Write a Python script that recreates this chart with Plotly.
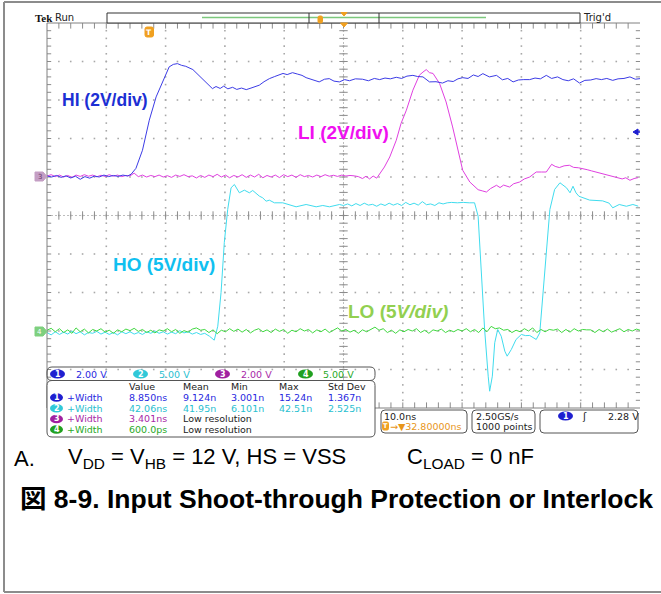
import plotly.graph_objects as go

# ---------------- data read from the scope capture ----------------
TIME_PER_DIV_NS = 10.0
TIME_LEFT_NS = -17.2          # left graticule edge, relative to trigger (ns)
SCALE_V_12 = 2.0              # ch1 / ch3  (HI, LI)   V/div
SCALE_V_34 = 5.0              # ch2 / ch4  (HO, LO)   V/div
OFFSET_DIV_12 = 1             # ground position (div) of ch1/ch3
OFFSET_DIV_34 = -3            # ground position (div) of ch2/ch4

# (time ns, volts)
HI = [(-17.2, 0.05), (-16.4, 0.0), (-15.6, 0.08), (-14.8, -0.02), (-14.0, 0.06), (-13.2, -0.05),
      (-12.4, 0.04), (-11.6, -0.12), (-10.8, 0.02), (-10.0, -0.06), (-9.2, 0.05), (-8.4, 0.0),
      (-7.6, 0.1), (-6.8, 0.02), (-6.0, 0.08), (-5.2, 0.03), (-4.4, 0.1), (-3.6, 0.05), (-3.0, 0.15),
      (-2.2, 0.45), (-1.1, 1.39), (0.05, 2.95), (1.2, 4.16), (2.3, 4.94), (3.4, 5.72), (4.1, 5.85),
      (4.8, 5.89), (5.5, 5.8), (6.2, 5.75), (7.4, 5.58), (8.2, 5.35), (9.0, 5.11), (9.9, 4.85),
      (10.7, 4.59), (11.3, 4.7), (12.0, 4.6), (12.6, 4.72), (13.3, 4.58), (14.1, 4.66), (14.8, 4.55),
      (15.6, 4.62), (16.4, 4.54), (17.2, 4.62), (18.0, 4.7), (18.6, 4.77), (19.4, 4.95), (20.3, 5.11),
      (21.2, 5.22), (22.0, 5.3), (22.6, 5.38), (23.3, 5.32), (24.2, 5.42), (25.0, 5.35), (25.8, 5.28),
      (26.5, 5.16), (27.5, 5.05), (28.7, 4.94), (29.6, 5.08), (30.4, 5.11), (31.2, 4.98), (32.1, 4.94),
      (33.0, 5.06), (33.8, 5.0), (34.8, 5.1), (36.0, 5.08), (37.0, 5.0), (38.0, 5.12), (38.9, 5.06),
      (39.8, 5.14), (40.7, 5.1), (41.7, 5.18), (42.6, 5.12), (43.5, 5.24), (44.5, 5.28), (45.3, 5.22),
      (46.2, 5.2), (47.3, 4.94), (48.4, 4.95), (49.5, 4.88), (50.4, 5.0), (51.3, 4.96), (52.1, 5.1),
      (52.9, 5.16), (53.8, 5.12), (54.7, 5.3), (55.5, 5.22), (56.3, 5.37), (57.4, 5.2), (58.6, 5.28),
      (59.6, 5.05), (60.5, 5.12), (61.4, 4.94), (62.3, 5.04), (63.2, 5.06), (64.2, 5.06), (65.1, 5.14),
      (66.0, 5.1), (67.0, 5.28), (67.9, 5.12), (68.9, 5.2), (69.8, 5.06), (70.7, 5.0), (71.6, 5.1),
      (72.6, 4.88), (73.5, 5.02), (74.5, 5.04), (75.4, 5.11), (76.3, 5.06), (77.2, 5.12), (78.2, 5.02),
      (79.1, 5.1), (80.1, 5.12), (81.1, 5.2), (82.0, 5.08), (82.8, 5.11)]

LI = [(-17.2, 0.05), (-16.5, 0.12), (-15.8, 0.02), (-15.1, 0.1), (-14.4, 0.0), (-13.7, 0.08),
      (-13.0, -0.02), (-12.3, 0.1), (-11.6, 0.03), (-10.9, 0.12), (-10.2, 0.04), (-9.5, 0.1),
      (-8.8, 0.01), (-8.1, 0.09), (-7.4, 0.03), (-6.7, 0.12), (-6.0, 0.04), (-5.3, 0.1), (-4.6, 0.02),
      (-3.9, 0.08), (-3.2, 0.06), (-2.5, 0.2), (-1.8, 0.02), (-1.1, 0.1), (-0.4, 0.0), (0.3, 0.08),
      (1.0, 0.02), (1.7, 0.1), (2.4, 0.0), (3.1, 0.07), (3.8, -0.02), (4.5, 0.1), (5.2, 0.03),
      (5.9, 0.12), (6.6, 0.02), (7.3, 0.06), (8.0, -0.05), (8.7, 0.08), (9.4, -0.02), (10.1, 0.1),
      (10.8, 0.02), (11.5, 0.14), (12.2, 0.0), (12.9, 0.1), (13.6, -0.04), (14.3, 0.08), (15.0, 0.0),
      (15.7, 0.12), (16.4, -0.02), (17.1, 0.1), (17.8, 0.0), (18.5, 0.14), (19.2, -0.04), (19.9, 0.08),
      (20.6, 0.0), (21.3, 0.1), (22.0, -0.03), (22.7, 0.12), (23.4, 0.02), (24.1, 0.1), (24.8, -0.02),
      (25.5, 0.12), (26.2, 0.02), (26.9, 0.08), (27.6, 0.0), (28.3, 0.1), (29.0, 0.02), (29.7, 0.12),
      (30.4, 0.04), (31.1, 0.09), (31.8, 0.03), (32.5, 0.1), (33.2, 0.05), (33.9, 0.08), (34.6, 0.06),
      (35.3, 0.02), (36.0, -0.08), (36.6, 0.04), (37.2, -0.1), (37.8, 0.05), (38.4, -0.06), (38.9, 0.18),
      (39.7, 0.52), (40.6, 1.04), (41.7, 1.91), (42.5, 2.78), (43.4, 3.47), (44.5, 4.51), (45.6, 5.29),
      (46.2, 5.45), (46.75, 5.58), (47.3, 5.42), (47.9, 5.38), (49.0, 4.86), (50.1, 3.9), (51.2, 2.6),
      (52.1, 1.39), (52.9, 0.35), (54.1, -0.26), (55.5, -0.66), (56.2, -0.72), (56.9, -0.78),
      (57.6, -0.6), (58.6, -0.43), (59.2, -0.55), (59.8, -0.42), (60.8, -0.52), (61.5, -0.35),
      (62.5, -0.26), (63.3, -0.1), (64.2, 0.0), (65.3, 0.26), (66.2, 0.26), (67.0, 0.26), (67.9, 0.66),
      (68.5, 0.55), (69.2, 0.49), (70.0, 0.58), (70.9, 0.61), (71.6, 0.5), (72.4, 0.48), (73.2, 0.44),
      (73.9, 0.38), (74.6, 0.32), (75.4, 0.26), (76.2, 0.2), (77.0, 0.14), (77.6, 0.1), (78.2, 0.04),
      (79.0, -0.02), (79.8, -0.1), (80.4, -0.04), (81.1, -0.17), (81.8, -0.08), (82.5, -0.03)]

HO = [(-17.2, -0.2), (-16.5, -0.5), (-15.8, -0.1), (-15.1, -0.45), (-14.4, -0.15), (-13.7, -0.4),
      (-13.0, 0.0), (-12.3, -0.35), (-11.6, -0.1), (-10.9, -0.5), (-10.2, -0.2), (-9.5, -0.3),
      (-8.8, -0.05), (-8.1, -0.4), (-7.4, -0.15), (-6.7, -0.45), (-6.0, -0.2), (-5.3, -0.5),
      (-4.6, -0.1), (-3.9, -0.35), (-3.2, -0.1), (-2.5, -0.4), (-1.8, -0.2), (-1.1, -0.45),
      (-0.4, -0.1), (0.3, -0.3), (1.0, 0.0), (1.7, -0.3), (2.4, -0.1), (3.1, -0.4), (3.8, -0.15),
      (4.5, -0.35), (5.2, 0.05), (5.9, -0.25), (6.6, -0.1), (7.3, -0.4), (8.0, -0.2), (8.7, -0.45),
      (9.4, -0.3), (10.2, -0.68), (11.0, -1.19), (11.6, 0.62), (12.15, 5.0), (12.7, 11.49),
      (13.27, 15.78), (13.84, 18.6), (14.4, 19.03), (15.24, 17.95), (16.08, 18.29), (16.93, 17.95),
      (17.49, 18.25), (18.62, 17.51), (19.17, 17.3), (19.75, 16.86), (20.3, 16.99), (21.15, 16.65),
      (22.55, 16.65), (23.68, 16.43), (24.81, 16.13), (26.5, 16.43), (28.19, 16.13), (29.3, 16.3),
      (30.43, 16.13), (32.12, 16.43), (32.8, 16.3), (33.5, 16.5), (34.2, 16.25), (34.9, 16.55),
      (35.6, 16.3), (36.3, 16.6), (37.0, 16.35), (37.7, 16.45), (38.4, 16.2), (39.1, 16.5),
      (39.8, 16.3), (40.5, 16.6), (41.2, 16.35), (41.9, 16.55), (42.6, 16.3), (43.3, 16.7),
      (44.0, 16.4), (44.7, 16.6), (45.4, 16.35), (46.1, 16.8), (46.8, 16.4), (47.5, 16.5),
      (48.2, 16.3), (48.9, 16.65), (49.6, 16.5), (50.3, 16.65), (51.0, 16.7), (52.0, 16.65),
      (53.0, 16.7), (54.0, 16.65), (54.9, 16.65), (55.5, 14.91), (56.0, 7.99), (56.6, 0.19),
      (57.2, -5.87), (57.45, -7.82), (57.9, -5.87), (58.3, -1.53), (58.8, 0.19), (59.4, -0.68),
      (60.0, -2.62), (60.4, -3.27), (61.1, -2.4), (61.9, -1.1), (62.8, -0.45), (63.5, -0.6),
      (64.2, -0.58), (64.8, -0.9), (65.3, -1.1), (65.9, -0.23), (66.4, 4.52), (67.0, 10.16),
      (67.6, 15.78), (68.4, 18.38), (69.3, 19.25), (70.4, 18.6), (71.0, 17.95), (71.5, 18.8),
      (72.0, 17.95), (72.5, 17.5), (73.4, 17.2), (74.3, 17.0), (76.5, 16.9), (77.6, 16.6),
      (78.2, 16.0), (79.3, 16.43), (80.5, 16.2), (81.6, 16.43), (82.5, 16.21)]

LO = [(-17.2, 0.1), (-16.5, 0.35), (-15.8, -0.1), (-15.1, 0.3), (-14.4, -0.2), (-13.7, 0.15),
      (-13.0, -0.3), (-12.3, 0.4), (-11.6, -0.1), (-10.9, 0.25), (-10.2, -0.25), (-9.5, 0.2),
      (-8.8, 0.0), (-8.1, 0.3), (-7.4, -0.15), (-6.7, 0.1), (-6.0, -0.3), (-5.3, 0.15), (-4.6, -0.1),
      (-3.9, 0.25), (-3.2, 0.05), (-2.5, 0.35), (-1.8, -0.05), (-1.1, 0.2), (-0.4, -0.2), (0.3, 0.1),
      (1.0, -0.25), (1.7, 0.15), (2.4, 0.0), (3.1, 0.3), (3.8, -0.1), (4.5, 0.2), (5.2, -0.3),
      (5.9, 0.05), (6.6, -0.15), (7.3, 0.25), (8.0, 0.4), (8.7, 0.1), (9.4, 0.2), (10.1, -0.2),
      (10.8, 0.15), (11.5, -0.35), (12.2, 0.1), (12.9, -0.1), (13.6, 0.3), (14.3, -0.05), (15.0, 0.25),
      (15.7, -0.15), (16.4, 0.2), (17.1, -0.25), (17.8, 0.1), (18.5, 0.3), (19.2, -0.1), (19.9, 0.15),
      (20.6, -0.2), (21.3, 0.25), (22.0, -0.05), (22.7, 0.2), (23.4, -0.3), (24.1, 0.1), (24.8, -0.1),
      (25.5, 0.3), (26.2, 0.0), (26.9, 0.2), (27.6, -0.25), (28.3, 0.15), (29.0, -0.1), (29.7, 0.25),
      (30.4, -0.2), (31.1, 0.1), (31.8, 0.4), (32.5, 0.0), (33.2, 0.2), (33.9, -0.15), (34.6, 0.1),
      (35.3, -0.3), (36.0, 0.15), (36.7, -0.1), (37.4, 0.2), (38.1, 0.5), (38.8, 0.1), (39.5, 0.3),
      (40.2, -0.2), (40.9, 0.1), (41.6, -0.3), (42.3, 0.15), (43.0, -0.1), (43.7, 0.2), (44.4, 0.0),
      (45.1, 0.3), (45.8, -0.2), (46.5, 0.1), (47.2, -0.3), (47.9, 0.15), (48.6, 0.0), (49.3, 0.25),
      (50.0, -0.2), (50.7, 0.1), (51.4, -0.1), (52.1, 0.2), (52.8, 0.0), (53.5, 0.3), (54.2, -0.1),
      (54.9, 0.2), (55.6, -0.2), (56.3, 0.4), (57.0, -0.1), (57.7, 0.6), (58.4, 0.3), (59.1, 0.4),
      (59.8, 0.1), (60.5, 0.2), (61.2, -0.2), (61.9, 0.1), (62.6, -0.1), (63.3, 0.3), (64.0, 0.0),
      (64.7, 0.4), (65.4, -0.2), (66.1, 0.2), (66.8, -0.1), (67.5, 0.2), (68.2, 0.1), (68.9, 0.25),
      (69.6, -0.2), (70.3, 0.2), (71.0, -0.15), (71.7, 0.3), (72.4, 0.0), (73.1, 0.2), (73.8, 0.15),
      (74.5, 0.15), (75.2, -0.2), (75.9, 0.2), (76.6, -0.1), (77.3, 0.25), (78.0, -0.15), (78.7, 0.1),
      (79.4, 0.3), (80.1, -0.1), (80.8, 0.2), (81.5, 0.0), (82.2, 0.25), (82.8, 0.1)]

SCALE_LABELS = ["2.00 V", "5.00 V", "2.00 V", "5.00 V"]
MEAS_HEADER = ["Value", "Mean", "Min", "Max", "Std Dev"]
MEAS_ROWS = [["8.850ns", "9.124n", "3.001n", "15.24n", "1.367n"],
             ["42.06ns", "41.95n", "6.101n", "42.51n", "2.525n"],
             ["3.401ns", "Low resolution"],
             ["600.0ps", "Low resolution"]]
TIMEBASE = ["10.0ns", "\u2192\u25bc32.80000ns"]
ACQ = ["2.50GS/s", "1000 points"]
TRIG_LEVEL = "2.28 V"

# ---------------- styling ----------------
C_HI, C_HO, C_LI, C_LO = "#3c3ce6", "#40dcee", "#e040e0", "#40d840"
BADGE = ["#1f1fd0", "#30c8d8", "#a020a0", "#20a020"]
TXT = ["#2828e0", "#28c0d0", "#a828a8", "#28a828"]
SF = "DejaVu Sans"
AF = "Liberation Sans, Arial, Noto Sans CJK JP"

W, H = 661, 594
PL, PR, PT, PB = 47, 640, 23, 408


def fx(x):
    return (x - PL) / (PR - PL)


def fy(y):
    return (PB - y) / (PB - PT)


shapes, annots = [], []


def text(x, y, s, size=10, color="#000", family=SF, anchor="left", **kw):
    annots.append(dict(x=fx(x), y=fy(y), xref="paper", yref="paper", text=s, showarrow=False,
                       xanchor=anchor, yanchor="middle", borderpad=0,
                       font=dict(size=size, color=color, family=family), **kw))


def line(x0, y0, x1, y1, color="#888", width=1, dash=None):
    d = dict(color=color, width=width)
    if dash:
        d["dash"] = dash
    shapes.append(dict(type="line", xref="paper", yref="paper", x0=fx(x0), y0=fy(y0),
                       x1=fx(x1), y1=fy(y1), line=d))


def rrect(x0, y0, x1, y1, r=4, color="#555", fill="rgba(0,0,0,0)", width=1):
    p = (f"M {fx(x0+r)},{fy(y0)} L {fx(x1-r)},{fy(y0)} Q {fx(x1)},{fy(y0)} {fx(x1)},{fy(y0+r)} "
         f"L {fx(x1)},{fy(y1-r)} Q {fx(x1)},{fy(y1)} {fx(x1-r)},{fy(y1)} L {fx(x0+r)},{fy(y1)} "
         f"Q {fx(x0)},{fy(y1)} {fx(x0)},{fy(y1-r)} L {fx(x0)},{fy(y0+r)} Q {fx(x0)},{fy(y0)} {fx(x0+r)},{fy(y0)} Z")
    shapes.append(dict(type="path", xref="paper", yref="paper", path=p,
                       line=dict(color=color, width=width), fillcolor=fill))


def badge(x0, x1, yc, n, color, h=9):
    shapes.append(dict(type="circle", xref="paper", yref="paper", x0=fx(x0), x1=fx(x1),
                       y0=fy(yc - h / 2), y1=fy(yc + h / 2), fillcolor=color, line=dict(width=0)))
    text((x0 + x1) / 2, yc, f"<b>{n}</b>", size=8, color="white", anchor="center")


def path(pts, fill, color=None):
    p = "M " + " L ".join(f"{fx(a)},{fy(b)}" for a, b in pts) + " Z"
    shapes.append(dict(type="path", xref="paper", yref="paper", path=p, fillcolor=fill,
                       line=dict(color=color or fill, width=1)))


fig = go.Figure()

# ---------------- graticule ----------------
GRID = "#a8a8a8"
TICK = "#8c8c8c"
xl = TIME_LEFT_NS
xr = xl + 10 * TIME_PER_DIV_NS
xc = xl + 5 * TIME_PER_DIV_NS
major_x = [xl + TIME_PER_DIV_NS * k for k in range(1, 10)]
minor_x = [xl + TIME_PER_DIV_NS * k / 5 for k in range(1, 50)]
major_y = [k for k in range(-4, 5)]
minor_y = [-5 + k / 5 for k in range(1, 50)]
gx, gy = [], []
for X in major_x:
    for Y in minor_y:
        gx.append(X); gy.append(Y)
for Y in major_y:
    for X in minor_x:
        gx.append(X); gy.append(Y)
fig.add_trace(go.Scatter(x=gx, y=gy, mode="markers", hoverinfo="skip",
                         marker=dict(symbol="square", size=1.6, color=GRID, line=dict(width=0))))
fig.add_trace(go.Scatter(x=[xl, xr], y=[0, 0], mode="lines", hoverinfo="skip",
                         line=dict(color="#bdbdbd", width=1, dash="2px,2px")))
fig.add_trace(go.Scatter(x=[xc, xc], y=[-5, 5], mode="lines", hoverinfo="skip",
                         line=dict(color="#bdbdbd", width=1, dash="2px,2px")))
tk = dict(color=TICK, width=1)
fig.add_trace(go.Scatter(x=minor_x, y=[0] * len(minor_x), mode="markers", hoverinfo="skip",
                         marker=dict(symbol="line-ns-open", size=6, color=TICK, line=tk)))
fig.add_trace(go.Scatter(x=[xc] * len(minor_y), y=minor_y, mode="markers", hoverinfo="skip",
                         marker=dict(symbol="line-ew-open", size=6, color=TICK, line=tk)))
fig.add_trace(go.Scatter(x=minor_x * 2, y=[5] * len(minor_x) + [-5] * len(minor_x), mode="markers",
                         hoverinfo="skip", marker=dict(symbol="line-ns-open", size=8, color=TICK, line=tk)))
fig.add_trace(go.Scatter(x=[xl] * len(minor_y) + [xr] * len(minor_y), y=minor_y * 2, mode="markers",
                         hoverinfo="skip", marker=dict(symbol="line-ew-open", size=6, color=TICK, line=tk)))

# ---------------- channel traces ----------------
for pairs, color, ax in [(HO, C_HO, "y3"), (LO, C_LO, "y3"), (LI, C_LI, "y2"), (HI, C_HI, "y2")]:
    fig.add_trace(go.Scatter(x=[p[0] for p in pairs], y=[p[1] for p in pairs], mode="lines",
                             yaxis=ax, hoverinfo="skip", line=dict(color=color, width=1)))

rng12 = [(-5 - OFFSET_DIV_12) * SCALE_V_12, (5 - OFFSET_DIV_12) * SCALE_V_12]
rng34 = [(-5 - OFFSET_DIV_34) * SCALE_V_34, (5 - OFFSET_DIV_34) * SCALE_V_34]

# graticule frame
line(PL, PT, PR, PT, "#808080")
line(PL, PT, PL, PB, "#808080")
line(PL, PB, PR, PB, "#808080")

# outer figure frame
line(4, 2, 661, 2, "#8c8c8c", 2)
line(4, 2, 4, 592, "#8c8c8c", 2)
line(4, 592, 661, 592, "#8c8c8c", 2)

# ---------------- scope header ----------------
text(34, 17.5, "<b>Tek</b>", size=11, family="Liberation Serif", color="#111")
text(54, 17.5, "Run", size=10, color="#222")
text(582, 17, "Trig'd", size=10, color="#222")
shapes.append(dict(type="rect", xref="paper", yref="paper", x0=fx(107), x1=fx(580), y0=fy(23), y1=fy(13),
                   line=dict(color="#333", width=1), fillcolor="white"))
line(202, 17.5, 486, 17.5, "#7cc87c", 1.5)
line(309, 13, 309, 23, "#333")
line(379, 13, 379, 23, "#333")
path([(341, 12.5), (347, 12.5), (344, 16)], "#f0a020")
path([(340.5, 23), (347.5, 23), (344, 27)], "#f0a020")
rrect(318, 16, 322.5, 23, r=1.5, color="#f0a020", fill="#f0a020")
rrect(145, 27, 153.5, 37, r=2, color="#f0a020", fill="#f0a020")
text(149.3, 32, "<b>T</b>", size=7.5, color="white", anchor="center")

# trigger level arrow (right edge) and ground markers (left edge)
path([(633, 132), (638, 129), (638, 135)], "#1f1fd0")
line(636, 132, 640, 132, "#1f1fd0", 1.5)
path([(35, 172), (43, 172), (47, 176.5), (43, 181), (35, 181)], "#c49ec4")
text(39.5, 176.5, "3", size=7, color="#6a3a6a", anchor="center")
path([(35, 327), (43, 327), (47, 331.5), (43, 336), (35, 336)], "#7fd07f")
text(39.5, 331.5, "4", size=7, color="white", anchor="center")

# ---------------- channel labels ----------------
text(61, 100, "<b>HI (2V/div)</b>", size=17.5, color="#1c2fd4", family=AF)
text(297, 132, "<b>LI (2V/div)</b>", size=19, color="#f010f0", family=AF)
text(112, 264, "<b>HO (5V/div)</b>", size=19, color="#10c0f0", family=AF)
text(347, 311, "<b>LO (5<i>V/div)</i></b>", size=19, color="#92d050", family=AF)

# ---------------- readouts ----------------
rrect(47, 367, 375, 380.5, r=5, color="#555")
rrect(47, 380.5, 375, 437, r=5, color="#555", fill="white")
for i, (bx, tx_) in enumerate([(50, 75), (133, 158), (215, 240), (298, 322)]):
    badge(bx, bx + 15, 374, i + 1, BADGE[i])
    text(tx_, 374, SCALE_LABELS[i], size=9.5, color=TXT[i])
cols = [128, 181.5, 230, 278, 326.5]
for c, h in zip(cols, MEAS_HEADER):
    text(c, 386.7, h, size=9.5, color="#222")
rows_y = [397.5, 408.3, 419, 429.5]
for i, (ry, row) in enumerate(zip(rows_y, MEAS_ROWS)):
    badge(50, 63, ry, i + 1, BADGE[i], h=8.5)
    text(66, ry, "+Width", size=9.5, color=TXT[i])
    for j, v in enumerate(row):
        col = TXT[i] if v != "Low resolution" else "#222"
        text(cols[j], ry, v, size=9.5, color=col)

rrect(381, 410, 467, 433, r=4, color="#555")
rrect(472, 410, 535, 433, r=4, color="#555")
rrect(540, 410, 638, 433, r=4, color="#555")
text(383, 416, TIMEBASE[0], size=9.5, color="#222")
rrect(382.5, 422, 388.5, 430, r=1.5, color="#f0a020", fill="#f0a020")
text(385.5, 426, "<b>T</b>", size=6.5, color="white", anchor="center")
text(389, 426, TIMEBASE[1], size=9.5, color="#e8961a")
text(475, 416, ACQ[0], size=9.5, color="#222")
text(475, 426, ACQ[1], size=9.5, color="#222")
badge(558, 573, 416, 1, BADGE[0])
text(581, 416, "\u0283", size=10, color="#222")
text(607, 416, TRIG_LEVEL, size=9.5, color="#222")

# ---------------- figure caption ----------------
text(13, 458, "A.", size=22, color="#000", family=AF)
text(67, 458, "V<sub>DD</sub> = V<sub>HB</sub> = 12 V, HS = VSS", size=22, color="#000", family=AF)
text(406, 458, "C<sub>LOAD</sub> = 0 nF", size=22, color="#000", family=AF)
text(19, 499, "<b>図 8-9. Input Shoot-through Protection or Interlock</b>", size=26.5, color="#000",
     family=AF)

fig.update_layout(
    width=W, height=H, margin=dict(l=PL, r=W - PR, t=PT, b=H - PB, pad=0),
    paper_bgcolor="white", plot_bgcolor="white", showlegend=False,
    xaxis=dict(range=[xl, xr], visible=False, fixedrange=True),
    yaxis=dict(range=[-5, 5], visible=False, fixedrange=True),
    yaxis2=dict(range=rng12, overlaying="y", anchor="x", visible=False, fixedrange=True),
    yaxis3=dict(range=rng34, overlaying="y", anchor="x", visible=False, fixedrange=True),
    shapes=shapes, annotations=annots,
)
fig.write_html("out.html", config={"displayModeBar": False},
               post_script="document.body.style.margin='0';document.body.style.overflow='hidden';")
